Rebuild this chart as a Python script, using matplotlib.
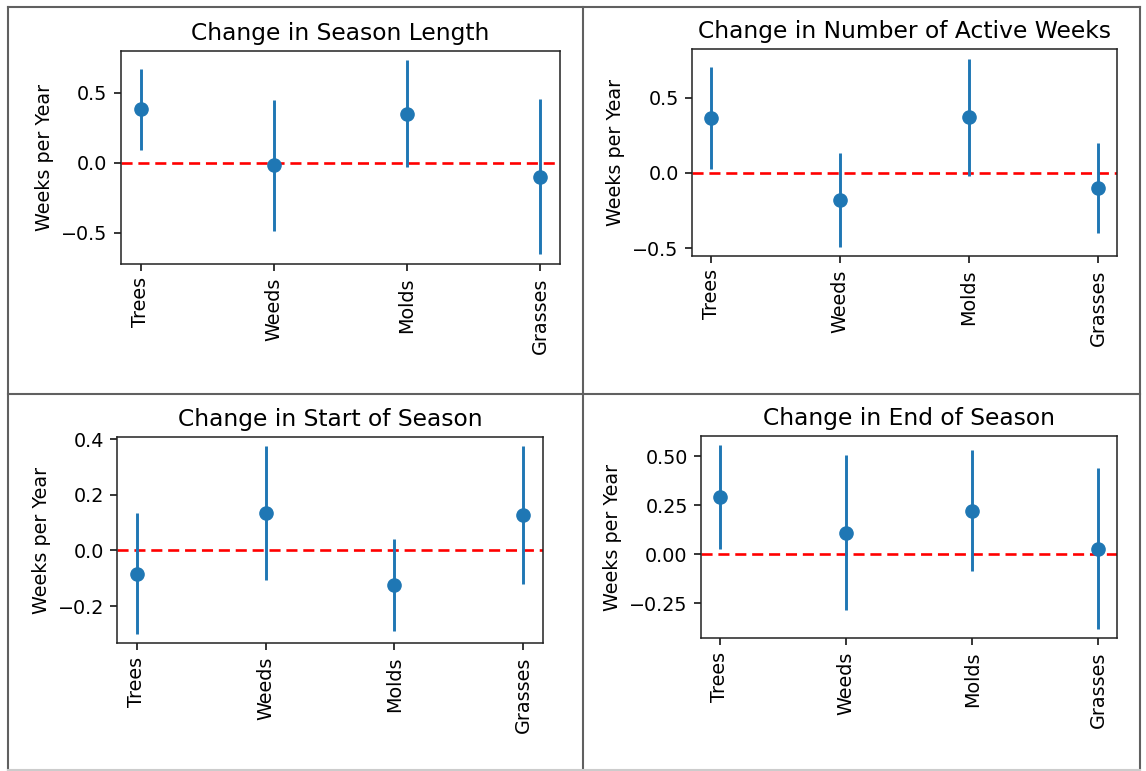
import matplotlib
matplotlib.use('Agg')
import matplotlib.pyplot as plt
from matplotlib.lines import Line2D

# pollen types shown on every panel
categories = ['Trees', 'Weeds', 'Molds', 'Grasses']

titles = ['Change in Season Length', 'Change in Number of Active Weeks',
          'Change in Start of Season', 'Change in End of Season']

# slope estimates (weeks per year) and their +/- error
season_length = [0.38, -0.02, 0.35, -0.10]
season_length_err = [0.29, 0.47, 0.38, 0.555]

active_weeks = [0.365, -0.18, 0.37, -0.10]
active_weeks_err = [0.34, 0.31, 0.39, 0.30]

start_season = [-0.083, 0.134, -0.125, 0.127]
start_season_err = [0.217, 0.241, 0.165, 0.248]

end_season = [0.291, 0.111, 0.222, 0.029]
end_season_err = [0.265, 0.393, 0.307, 0.41]

yticks = [[-0.5, 0.0, 0.5], [-0.5, 0.0, 0.5], [-0.2, 0.0, 0.2, 0.4],
          [-0.25, 0.0, 0.25, 0.50]]

W, H = 1146, 771
fig = plt.figure(figsize=(W / 100, H / 100), dpi=100)

# axes boxes in pixels: left, top, right, bottom
boxes = [(120.7, 50.7, 560, 264), (692, 49.3, 1117.3, 256),
         (117.3, 436.7, 542.7, 643.3), (701, 436, 1117.3, 638.3)]

values = [season_length, active_weeks, start_season, end_season]
errors = [season_length_err, active_weeks_err, start_season_err, end_season_err]

for box, title, vals, errs, ticks in zip(boxes, titles, values, errors, yticks):
    l, t, r, b = box
    ax = fig.add_axes([l / W, (H - b) / H, (r - l) / W, (b - t) / H])
    x = list(range(len(categories)))
    ax.errorbar(x, vals, yerr=errs, fmt='o', color='#1f77b4', ms=9.5,
                elinewidth=2.1, capsize=0, zorder=3)
    ax.axhline(0, color='red', linestyle='--', linewidth=1.9, dashes=(4.2, 2.2), zorder=2)
    ax.set_xticks(x)
    ax.set_xticklabels(categories, rotation=90, fontsize=13.8)
    ax.set_yticks(ticks)
    ax.tick_params(axis='y', labelsize=13.8)
    ax.tick_params(length=4.8, width=1.1, pad=4.8)
    ax.set_ylabel('Weeks per Year', fontsize=13.8, labelpad=5)
    ax.set_title(title, fontsize=16.8, pad=8)
    for s in ax.spines.values():
        s.set_linewidth(1.1)
        s.set_color('#222222')

# cell borders of the screenshot grid
grey = '#606060'
border = [((8, 8), (6.5, 770)), ((583, 583), (6.5, 770)), ((1140, 1140), (6.5, 770)),
          ((8, 1140), (6.5, 6.5)), ((8, 1140), (394, 394))]
for xs, ys in border:
    fig.add_artist(Line2D([v / W for v in xs], [(H - v) / H for v in ys],
                          color=grey, linewidth=1.5))
fig.add_artist(Line2D([8 / W, 1140 / W], [(H - 769.5) / H] * 2, color='#cccccc', linewidth=1.5))

fig.savefig('out.png', dpi=100)
